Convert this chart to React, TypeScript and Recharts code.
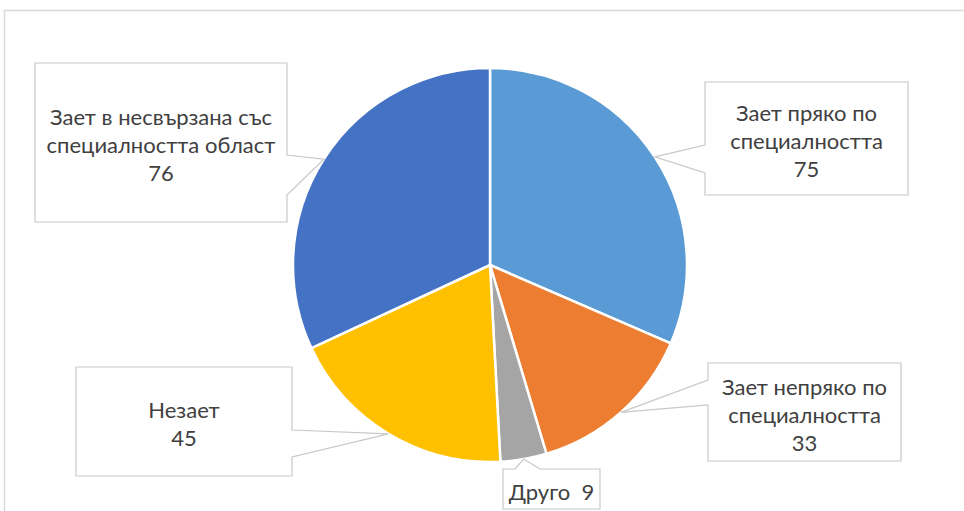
import { PieChart, Pie, Cell } from "recharts"

const categories = [
  "Зает пряко по специалността",
  "Зает непряко по специалността",
  "Друго",
  "Незает",
  "Зает в несвързана със специалността област",
]
const values = [75, 33, 9, 45, 76]
const colors = ["#5B9BD5", "#ED7D31", "#A5A5A5", "#FFC000", "#4472C4"]

// callout boxes: position, size, which edge the wedge comes out of, wedge base offsets
const boxes = [
  { x: 705, y: 82, w: 203, h: 113, side: "left", b1: 63, b2: 91, wrap: 15, inline: false },
  { x: 708, y: 363, w: 193, h: 98, side: "left", b1: 17, b2: 42, wrap: 15, inline: false },
  { x: 503, y: 469, w: 97, h: 40, side: "top", b1: 12, b2: 37, wrap: 30, inline: true },
  { x: 76, y: 367, w: 216, h: 109, side: "right", b1: 63, b2: 90, wrap: 20, inline: false },
  { x: 35, y: 63, w: 252, h: 159, side: "right", b1: 92, b2: 132, wrap: 21, inline: false },
]

const data = categories.map((name, i) => ({ name, value: values[i] }))

const RADIAN = Math.PI / 180

function wrapText(text: string, max: number) {
  const words = text.split(" ")
  const lines: string[] = []
  let cur = ""
  for (const w of words) {
    const next = cur ? cur + " " + w : w
    if (next.length > max && cur) {
      lines.push(cur)
      cur = w
    } else {
      cur = next
    }
  }
  if (cur) lines.push(cur)
  return lines
}

function Callout(props: any) {
  const { cx, cy, midAngle, outerRadius, index } = props
  const b = boxes[index]
  const tx = cx + outerRadius * Math.cos(-midAngle * RADIAN)
  const ty = cy + outerRadius * Math.sin(-midAngle * RADIAN)
  const { x, y, w, h } = b
  let d = ""
  if (b.side === "left") {
    d = `M${x},${y} H${x + w} V${y + h} H${x} V${y + b.b2} L${tx},${ty} L${x},${y + b.b1} Z`
  } else if (b.side === "right") {
    d = `M${x},${y} H${x + w} V${y + b.b1} L${tx},${ty} L${x + w},${y + b.b2} V${y + h} H${x} Z`
  } else {
    d = `M${x},${y} H${x + b.b1} L${tx},${ty} L${x + b.b2},${y} H${x + w} V${y + h} H${x} Z`
  }
  const name = categories[index]
  const val = values[index]
  const lines = b.inline ? [`${name}\u00A0\u00A0${val}`] : [...wrapText(name, b.wrap), String(val)]
  const lh = 28
  const startY = y + h / 2 + 2 - ((lines.length - 1) * lh) / 2
  return (
    <g>
      <path d={d} fill="#ffffff" stroke="#c8c8c8" strokeWidth={1.2} />
      {lines.map((ln, i) => (
        <text
          key={i}
          x={x + w / 2}
          y={startY + i * lh}
          textAnchor="middle"
          dominantBaseline="central"
          fill="#404040"
          fontSize={22}
          fontFamily="Lato, 'Open Sans', sans-serif"
        >
          {ln}
        </text>
      ))}
    </g>
  )
}

export default function App() {
  return (
    <div style={{ position: "absolute", left: 0, top: 0, width: 964, height: 511, background: "#fff", overflow: "hidden" }}>
      <svg width={964} height={511} style={{ position: "absolute", left: 0, top: 0 }}>
        <rect x={4.5} y={10.5} width={1000} height={600} fill="none" stroke="#d9d9d9" strokeWidth={1.5} />
      </svg>
      <div style={{ position: "absolute", left: 0, top: 0 }}>
        <PieChart width={964} height={511}>
          <Pie
            data={data}
            dataKey="value"
            nameKey="name"
            cx={485}
            cy={260}
            outerRadius={197}
            startAngle={90}
            endAngle={-270}
            stroke="#ffffff"
            strokeWidth={2.5}
            label={Callout}
            labelLine={false}
            isAnimationActive={false}
          >
            {data.map((_, i) => (
              <Cell key={i} fill={colors[i]} />
            ))}
          </Pie>
        </PieChart>
      </div>
    </div>
  )
}
